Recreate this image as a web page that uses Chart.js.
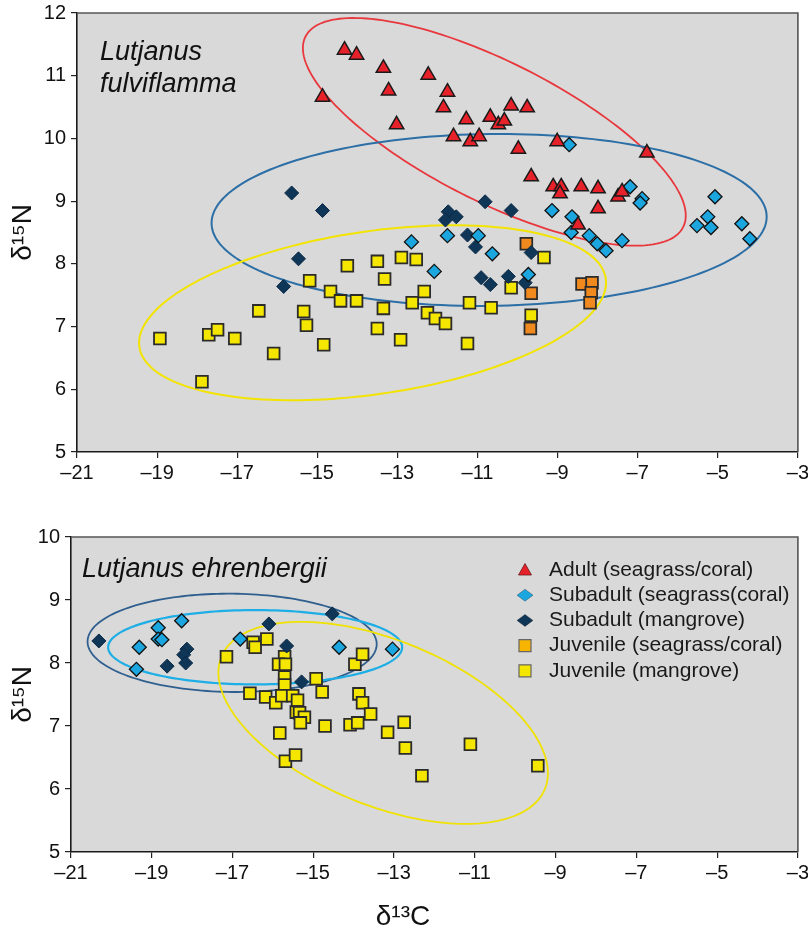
<!DOCTYPE html>
<html>
<head>
<meta charset="utf-8">
<script src="https://cdn.jsdelivr.net/npm/chart.js@4.4.1/dist/chart.umd.min.js"></script>
<style>
  html, body { margin: 0; padding: 0; background: #ffffff; }
  #wrap { position: relative; width: 808px; height: 934px; overflow: hidden; }
  canvas { position: absolute; left: 0; }
  #c1 { top: 0; width: 808px; height: 500px; }
  #c2 { top: 500px; width: 808px; height: 434px; }
</style>
</head>
<body>
<div id="wrap">
  <canvas id="c1" width="808" height="500"></canvas>
  <canvas id="c2" width="808" height="434"></canvas>
</div>
<script>
// ---------------- data ----------------
const seriesLabels = ['Adult (seagrass/coral)', 'Subadult (seagrass(coral)', 'Subadult (mangrove)', 'Juvenile (seagrass/coral)', 'Juvenile (mangrove)'];
const speciesTop = ['Lutjanus', 'fulviflamma'];
const speciesBottom = ['Lutjanus ehrenbergii'];
const xTitle = 'δ¹³C';
const yTitle = 'δ¹⁵N';
const xTicks = [-21, -19, -17, -15, -13, -11, -9, -7, -5, -3];
const yTicksTop = [5, 6, 7, 8, 9, 10, 11, 12];
const yTicksBottom = [5, 6, 7, 8, 9, 10];

// Lutjanus fulviflamma  [d13C, d15N]
const fulviAdult = [[-14.32,11.41],[-14.02,11.33],[-13.35,11.12],[-13.22,10.76],[-14.87,10.66],[-13.02,10.22],[-12.23,11.01],[-11.75,10.74],[-11.85,10.49],[-11.28,10.30],[-10.68,10.34],[-10.48,10.22],[-10.33,10.28],[-10.16,10.52],[-9.76,10.49],[-11.60,10.03],[-11.18,9.95],[-10.96,10.03],[-9.98,9.83],[-9.01,9.95],[-6.77,9.77],[-9.66,9.39],[-9.11,9.23],[-8.91,9.23],[-8.94,9.12],[-8.41,9.23],[-7.99,9.20],[-7.49,9.07],[-7.39,9.15],[-7.99,8.88],[-8.49,8.62]];
const fulviSubSea = [[-8.71,9.90],[-7.19,9.23],[-6.89,9.04],[-6.94,8.97],[-5.07,9.07],[-9.14,8.85],[-8.64,8.75],[-5.25,8.75],[-5.52,8.61],[-5.17,8.58],[-4.40,8.64],[-4.20,8.40],[-8.66,8.50],[-8.21,8.45],[-7.39,8.37],[-8.01,8.32],[-7.79,8.21],[-11.75,8.45],[-10.98,8.45],[-12.65,8.35],[-10.63,8.16],[-12.08,7.88],[-9.73,7.83]];
const fulviSubMan = [[-15.64,9.13],[-14.87,8.85],[-15.47,8.08],[-15.84,7.64],[-10.81,8.99],[-10.16,8.85],[-11.73,8.83],[-11.53,8.75],[-11.80,8.70],[-11.25,8.46],[-11.05,8.27],[-9.66,8.18],[-10.91,7.78],[-10.68,7.67],[-10.23,7.80],[-9.81,7.70]];
const fulviJuvSea = [[-9.78,8.32],[-8.39,7.68],[-8.14,7.70],[-8.16,7.54],[-8.19,7.38],[-9.66,7.53],[-9.68,6.97]];
const fulviJuvMan = [[-18.93,6.81],[-17.88,6.12],[-17.71,6.87],[-17.49,6.95],[-17.06,6.81],[-16.46,7.25],[-16.09,6.57],[-15.34,7.24],[-15.27,7.02],[-15.19,7.73],[-14.84,6.71],[-14.67,7.56],[-14.42,7.41],[-14.02,7.41],[-14.25,7.97],[-13.50,8.04],[-13.32,7.76],[-13.35,7.29],[-13.50,6.97],[-12.90,8.10],[-12.92,6.79],[-12.53,8.07],[-12.33,7.56],[-12.63,7.38],[-12.25,7.22],[-12.05,7.13],[-11.80,7.05],[-11.20,7.38],[-10.66,7.30],[-11.25,6.73],[-10.16,7.62],[-9.34,8.10],[-9.66,7.18]];

// Lutjanus ehrenbergii
const ehrenSubSea = [[-18.84,8.56],[-18.84,8.38],[-18.75,8.37],[-18.26,8.67],[-19.31,8.25],[-19.38,7.90],[-16.81,8.38],[-14.36,8.25],[-13.04,8.22]];
const ehrenSubMan = [[-20.31,8.35],[-18.62,7.95],[-18.13,8.22],[-18.21,8.13],[-18.16,8.00],[-16.10,8.62],[-15.66,8.27],[-14.53,8.78],[-15.29,7.70]];
const ehrenJuvMan = [[-17.15,8.10],[-16.49,8.33],[-16.44,8.25],[-16.15,8.38],[-15.71,8.10],[-15.86,7.98],[-15.69,7.98],[-15.71,7.78],[-15.71,7.65],[-16.57,7.52],[-16.18,7.46],[-15.93,7.37],[-15.78,7.48],[-15.51,7.48],[-15.39,7.41],[-15.42,7.22],[-15.34,7.21],[-15.22,7.14],[-15.32,7.05],[-15.83,6.89],[-14.93,7.75],[-14.78,7.54],[-14.71,7.00],[-14.09,7.02],[-13.90,7.05],[-13.87,7.51],[-13.78,7.37],[-13.58,7.19],[-13.97,7.98],[-13.78,8.14],[-13.16,6.90],[-15.69,6.44],[-15.44,6.54],[-12.75,7.06],[-12.72,6.65],[-11.11,6.71],[-12.31,6.21],[-9.44,6.37]];

// ellipses: [centre d13C, centre d15N, rightmost d13C, rightmost d15N, vertical half-chord at centre]
const fulviEllipses = [[-10.58,10.105,-5.80,8.77,1.23],[-10.71,8.70,-3.78,8.75,1.37],[-13.62,7.22,-7.79,7.70,1.31]];
const ehrenEllipses = [[-17.01,8.32,-13.43,8.30,0.78],[-16.44,8.25,-12.80,8.25,0.59],[-13.27,7.05,-9.19,6.25,1.39]];

// ---------------- styles ----------------
const FONT = "'Liberation Sans', Arial, Helvetica, sans-serif";
const markerStyles = [
  { pointStyle: 'triangle', pointRadius: 8.3, pointBackgroundColor: '#e62129', pointBorderColor: '#1a1a1a', pointBorderWidth: 1.5 },
  { pointStyle: 'rectRot', pointRadius: 7, pointBackgroundColor: '#1ca6df', pointBorderColor: '#111111', pointBorderWidth: 1.3 },
  { pointStyle: 'rectRot', pointRadius: 7, pointBackgroundColor: '#103657', pointBorderColor: '#0b2a45', pointBorderWidth: 1 },
  { pointStyle: 'rect', pointRadius: 8.3, pointBackgroundColor: '#f08a1e', pointBorderColor: '#2b2b2b', pointBorderWidth: 1.8 },
  { pointStyle: 'rect', pointRadius: 8.3, pointBackgroundColor: '#f5e600', pointBorderColor: '#2b2b2b', pointBorderWidth: 1.8 }
];
const legendFill = ['#e62129', '#1ca6df', '#103657', '#f7b400', '#f5e600'];
const topEllipseStyle = [{ c: '#e8383d', w: 1.8 }, { c: '#2c6ea6', w: 2 }, { c: '#f2e400', w: 2 }];
const botEllipseStyle = [{ c: '#2f5f8f', w: 1.8 }, { c: '#1eaee6', w: 2.2 }, { c: '#f0e200', w: 1.8 }];

const toXY = arr => arr.map(p => ({ x: p[0], y: p[1] }));
const fmtTick = v => (v < 0 ? '\u2013' + Math.abs(v) : String(v));

function makeDataset(idx, pts) {
  return Object.assign({ label: seriesLabels[idx], data: toXY(pts), order: idx, showLine: false, pointHoverRadius: markerStyles[idx].pointRadius }, markerStyles[idx]);
}

function makeScales(yMin, yMax, yTicks, yWidth, xHeight) {
  const grid = { display: true, drawOnChartArea: false, drawTicks: true, tickLength: 6, color: '#222', lineWidth: 1.2 };
  const border = { display: true, color: '#1a1a1a', width: 1.6 };
  return {
    x: {
      type: 'linear', position: 'bottom', min: -21, max: -3,
      afterBuildTicks: s => { s.ticks = xTicks.map(v => ({ value: v })); },
      afterFit: s => { s.height = xHeight; s.paddingLeft = 0; s.paddingRight = 0; },
      ticks: { callback: fmtTick, font: { family: FONT, size: 20 }, color: '#111', padding: 3, maxRotation: 0, minRotation: 0, autoSkip: false },
      grid: grid, border: border
    },
    y: {
      type: 'linear', position: 'left', min: yMin, max: yMax,
      afterBuildTicks: s => { s.ticks = yTicks.map(v => ({ value: v })); },
      afterFit: s => { s.width = yWidth; s.paddingTop = 0; s.paddingBottom = 0; },
      ticks: { callback: fmtTick, font: { family: FONT, size: 20 }, color: '#111', padding: 5, autoSkip: false },
      grid: grid, border: border,
      title: { display: true, text: yTitle, font: { family: FONT, size: 28 }, color: '#111', padding: { top: 6, bottom: 0 } }
    }
  };
}

const framePlugin = {
  id: 'framePlugin',
  beforeDraw(chart) {
    const { ctx, chartArea: a } = chart;
    ctx.save();
    ctx.fillStyle = '#d9d9d9';
    ctx.fillRect(a.left, a.top, a.right - a.left, a.bottom - a.top);
    ctx.restore();
  },
  afterDraw(chart) {
    const { ctx, chartArea: a } = chart;
    ctx.save();
    ctx.strokeStyle = '#555555';
    ctx.lineWidth = 1.6;
    ctx.beginPath();
    ctx.moveTo(a.left, a.top);
    ctx.lineTo(a.right, a.top);
    ctx.lineTo(a.right, a.bottom);
    ctx.stroke();
    ctx.restore();
  }
};

function ellipsePlugin(list, styles) {
  return {
    id: 'ellipses',
    beforeDatasetsDraw(chart) {
      const { ctx, scales: { x, y }, chartArea: a } = chart;
      ctx.save();
      ctx.beginPath();
      ctx.rect(a.left, a.top, a.right - a.left, a.bottom - a.top);
      ctx.clip();
      list.forEach((e, i) => {
        const [cx, cy, ex, ey, h] = e;
        ctx.beginPath();
        const n = 180;
        for (let k = 0; k <= n; k++) {
          const t = (k / n) * Math.PI * 2;
          const dx = cx + (ex - cx) * Math.cos(t);
          const dy = cy + (ey - cy) * Math.cos(t) + h * Math.sin(t);
          const px = x.getPixelForValue(dx), py = y.getPixelForValue(dy);
          if (k === 0) ctx.moveTo(px, py); else ctx.lineTo(px, py);
        }
        ctx.closePath();
        ctx.strokeStyle = styles[i].c;
        ctx.lineWidth = styles[i].w;
        ctx.stroke();
      });
      ctx.restore();
    }
  };
}

function speciesPlugin(lines, dx, baseline, lineGap) {
  return {
    id: 'species',
    afterDatasetsDraw(chart) {
      const { ctx, chartArea: a } = chart;
      ctx.save();
      ctx.font = "italic 27px " + FONT;
      ctx.fillStyle = '#111';
      ctx.textAlign = 'left';
      ctx.textBaseline = 'alphabetic';
      lines.forEach((t, i) => ctx.fillText(t, a.left + dx, a.top + baseline + i * lineGap));
      ctx.restore();
    }
  };
}

function drawMarker(ctx, kind, x, y, fill) {
  ctx.beginPath();
  if (kind === 'tri') {
    ctx.moveTo(x, y - 6.5); ctx.lineTo(x + 6.5, y + 5); ctx.lineTo(x - 6.5, y + 5); ctx.closePath();
    ctx.fillStyle = fill; ctx.fill(); ctx.strokeStyle = '#6a1a1a'; ctx.lineWidth = 0.8; ctx.stroke();
  } else if (kind === 'dia') {
    ctx.moveTo(x - 8, y); ctx.lineTo(x, y - 6); ctx.lineTo(x + 8, y); ctx.lineTo(x, y + 6); ctx.closePath();
    ctx.fillStyle = fill; ctx.fill(); ctx.strokeStyle = 'rgba(0,0,0,0.35)'; ctx.lineWidth = 0.8; ctx.stroke();
  } else {
    ctx.rect(x - 6, y - 6, 12, 12);
    ctx.fillStyle = fill; ctx.fill(); ctx.strokeStyle = '#666'; ctx.lineWidth = 1.2; ctx.stroke();
  }
}

const legendPlugin = {
  id: 'customLegend',
  afterDraw(chart) {
    const { ctx, chartArea: a } = chart;
    const kinds = ['tri', 'dia', 'dia', 'sq', 'sq'];
    const mx = a.left + 454, tx = a.left + 478, y0 = a.top + 33, gap = 25.2;
    ctx.save();
    ctx.font = "21px " + FONT;
    ctx.textAlign = 'left';
    ctx.textBaseline = 'middle';
    seriesLabels.forEach((lab, i) => {
      const yy = y0 + i * gap;
      drawMarker(ctx, kinds[i], mx, yy, legendFill[i]);
      ctx.fillStyle = '#1a1a1a';
      ctx.fillText(lab, tx, yy);
    });
    ctx.restore();
  }
};

const baseOptions = (scales, extraPlugins) => ({
  responsive: false,
  animation: false,
  events: [],
  scales: scales,
  plugins: Object.assign({ legend: { display: false }, tooltip: { enabled: false } }, extraPlugins || {})
});

// ---------------- top chart ----------------
new Chart(document.getElementById('c1'), {
  type: 'scatter',
  data: {
    datasets: [
      makeDataset(0, fulviAdult),
      makeDataset(1, fulviSubSea),
      makeDataset(2, fulviSubMan),
      makeDataset(3, fulviJuvSea),
      makeDataset(4, fulviJuvMan)
    ]
  },
  options: Object.assign(baseOptions(makeScales(5, 12, yTicksTop, 77, 48)), {
    layout: { padding: { top: 13, right: 9, left: 0, bottom: 0 } }
  }),
  plugins: [framePlugin, ellipsePlugin(fulviEllipses, topEllipseStyle), speciesPlugin(speciesTop, 23, 47, 32)]
});

// ---------------- bottom chart ----------------
new Chart(document.getElementById('c2'), {
  type: 'scatter',
  data: {
    datasets: [
      makeDataset(1, ehrenSubSea),
      makeDataset(2, ehrenSubMan),
      makeDataset(4, ehrenJuvMan)
    ]
  },
  options: Object.assign(baseOptions(makeScales(5, 10, yTicksBottom, 71, 48.4), {
    title: { display: true, position: 'bottom', text: xTitle, font: { family: FONT, size: 28, weight: 'normal' }, color: '#111', padding: { top: 0, bottom: 0 } }
  }), {
    layout: { padding: { top: 37, right: 2, left: 0, bottom: 0 } }
  }),
  plugins: [framePlugin, ellipsePlugin(ehrenEllipses, botEllipseStyle), speciesPlugin(speciesBottom, 11, 40, 32), legendPlugin]
});
</script>
</body>
</html>
